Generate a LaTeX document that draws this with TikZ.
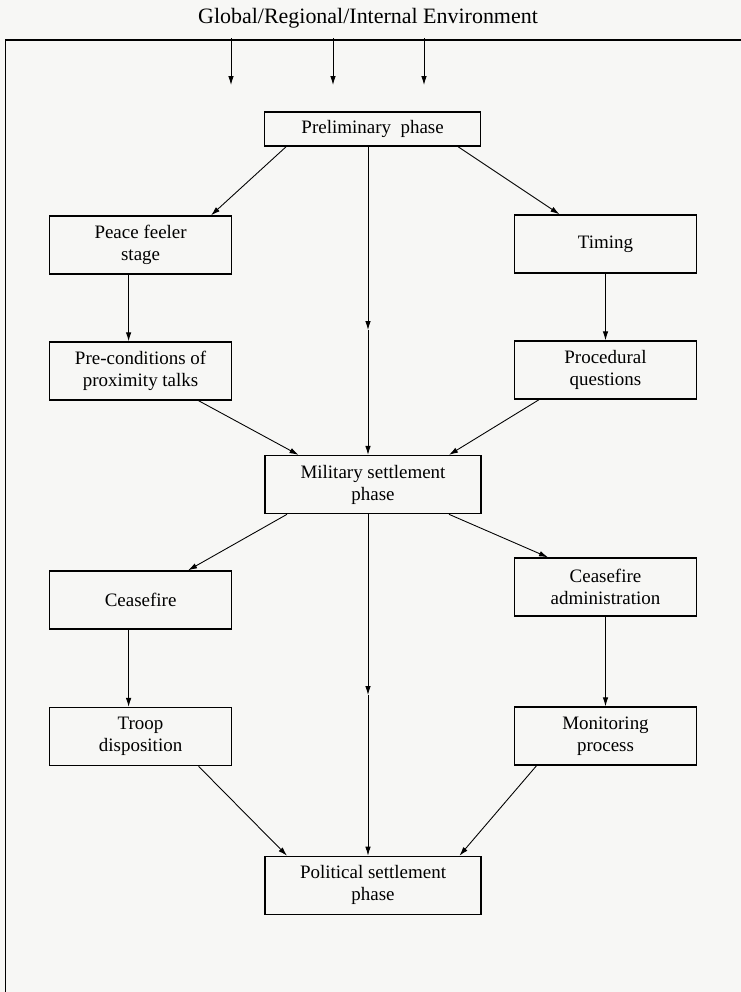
\documentclass[tikz,border=0pt]{standalone}
\usepackage{fontspec}
\setmainfont{Liberation Serif}
\usetikzlibrary{arrows.meta}

\definecolor{paper}{RGB}{247,247,245}

\tikzset{
	phasebox/.style={draw, line width=0.8pt, inner sep=0pt, align=center, minimum height=1.16cm, font=\fontsize{10.8}{12.5}\selectfont},
	sidebox/.style={phasebox, minimum width=3.64cm},
	midbox/.style={phasebox, minimum width=4.32cm},
	link/.style={-{Latex[length=1.8mm,width=1.1mm]}, line width=0.5pt},
}

\begin{document}
\begin{tikzpicture}[x=0.02cm,y=-0.02cm]

				\clip (0,0) rectangle (741,992);
				\fill[paper] (0,0) rectangle (741,992);
				\draw[line width=0.8pt] (5.5,40) rectangle (770,1010);
				
				\node[font=\fontsize{12.5}{14}\selectfont, inner sep=0pt] (Env) at (368,18) {Global/Regional/Internal Environment};
				\coordinate (E1) at (231,85);
				\coordinate (E2) at (333,85);
				\coordinate (E3) at (424,85);
				
				\draw[link] ([yshift=-0.2cm]Env.south -| E1) -- (E1);
				\draw[link] ([yshift=-0.2cm]Env.south -| E2) -- (E2);
				\draw[link] ([yshift=-0.2cm]Env.south -| E3) -- (E3);
				
				\node[midbox, minimum height=0.68cm] (Pre) at (372.6,129) {Preliminary\ \ phase};
				\node[sidebox] (Peace) at (140.6,245) {Peace feeler\\stage};
				\node[sidebox] (Tim) at (605.5,244) {Timing};
				\node[sidebox] (Cond) at (140.6,371) {Pre-conditions of\\proximity talks};
				\node[sidebox] (Proc) at (605.5,370) {Procedural\\questions};
				
				\node[midbox] (Mil) at (373,484.6) {Military settlement\\phase};
				\node[sidebox] (Cease) at (140.6,600) {Ceasefire};
				\node[sidebox] (Adm) at (605.5,587) {Ceasefire\\administration};
				\node[sidebox] (Troop) at (140.6,736.6) {Troop\\disposition};
				\node[sidebox] (Mon) at (605.5,736) {Monitoring\\process};
				
				\node[midbox] (Pol) at (373,885.4) {Political settlement\\phase};
				
				\coordinate (M1) at (368,330);
				\coordinate (M2) at (368,695);
				
				\draw[link] ([xshift=-1.73cm]Pre.south) -- ([xshift=1.41cm]Peace.north);
				\draw[link] ([xshift=1.71cm]Pre.south) -- ([xshift=-0.92cm]Tim.north);
				\draw[link] (Pre.south -| M1) -- (M1);
				\draw[link] (M1) -- (M1 |- Mil.north);
				
				\draw[link] ([xshift=-0.24cm]Peace.south) -- ([xshift=-0.24cm]Cond.north);
				\draw[link] (Tim.south) -- (Proc.north);
				
				\draw[link] ([xshift=1.16cm]Cond.south) -- ([xshift=-1.49cm]Mil.north);
				\draw[link] ([xshift=-1.33cm]Proc.south) -- ([xshift=1.52cm]Mil.north);
				
				\draw[link] ([xshift=-1.72cm]Mil.south) -- ([xshift=0.95cm]Cease.north);
				\draw[link] ([xshift=1.52cm]Mil.south) -- ([xshift=-1.15cm]Adm.north);
				\draw[link] (Mil.south -| M2) -- (M2);
				\draw[link] (M2) -- (M2 |- Pol.north);
				
				\draw[link] ([xshift=-0.24cm]Cease.south) -- ([xshift=-0.24cm]Troop.north);
				\draw[link] (Adm.south) -- (Mon.north);
				
				\draw[link] ([xshift=1.16cm]Troop.south) -- ([xshift=-1.72cm]Pol.north);
				\draw[link] ([xshift=-1.38cm]Mon.south) -- ([xshift=1.73cm]Pol.north);
				
			\end{tikzpicture}
\end{document}
